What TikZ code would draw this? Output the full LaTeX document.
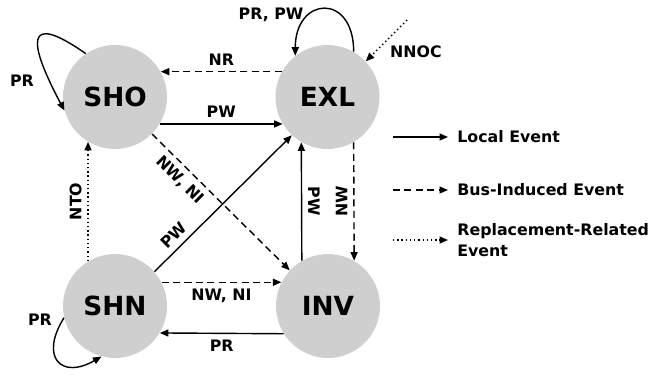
\documentclass[tikz,border=0pt]{standalone}
\usepackage{fontspec}
\setmainfont{DejaVu Sans}
\usepackage{tikz}
\usetikzlibrary{arrows.meta, positioning}

\begin{document}
\begin{tikzpicture}[
    state/.style={circle, fill=black!19, minimum size=2.08cm, inner sep=0pt,
                  font=\fontsize{15}{18}\selectfont\bfseries},
    lbl/.style={font=\fontsize{9}{12}\selectfont\bfseries},
    edge/.style={-{Triangle[length=1.7mm, width=1.4mm]}, thick},
    bus/.style={edge, dash pattern=on 4pt off 2.5pt},
    repl/.style={edge, dash pattern=on 0.8pt off 1.6pt}
  ]
  \useasboundingbox (0,0) rectangle (12.96,7.64);

  % Zustaende
  \node[state] (SHO) at (2.30,5.70) {SHO};
  \node[state] (EXL) at (6.55,5.70) {EXL};
  \node[state] (SHN) at (2.30,1.52) {SHN};
  \node[state] (INV) at (6.56,1.52) {INV};

  % Uebergaenge
  \draw[bus] (EXL.151) -- (SHO.29) node[midway, above, lbl] {NR};
  \draw[edge] (SHO.-31) -- (EXL.-149) node[midway, above, lbl] {PW};
  \draw[bus] (SHO.-45) -- (INV.137) node[pos=0.27, below, sloped, lbl] {NW, NI};
  \draw[edge] (SHN.41) -- (EXL.-133) node[pos=0.2, above, sloped, lbl] {PW};
  \draw[repl] (SHN.121) -- (SHO.-121) node[midway, above, sloped, lbl] {NTO};
  \draw[edge] (INV.120) -- (EXL.-120) node[midway, above, sloped, lbl] {PW};
  \draw[bus] (EXL.-60) -- (INV.60) node[midway, rotate=90, anchor=south, lbl] {NW};
  \draw[bus] (SHN.27) -- (INV.153) node[midway, below, lbl] {NW, NI};
  \draw[edge] (INV.-148) -- (SHN.-31) node[midway, below, lbl] {PR};

  % Schleifen
  \draw[edge] (SHO.124) to[out=145, in=118, looseness=3.2] (SHO.195);
  \node[lbl] (prsho) at (0.44,6.02) {PR};
  \draw[edge] (EXL.60) to[out=90, in=90, looseness=2.6] (EXL.128);
  \node[lbl] (prpw) at (5.42,7.34) {PR, PW};
  \draw[edge] (SHN.193) to[out=238, in=210, looseness=2.2] (SHN.255);
  \node[lbl] (prshn) at (0.80,1.24) {PR};

  % externes Ereignis
  \coordinate (nnocsrc) at (8.14,7.24);
  \draw[repl] (nnocsrc) -- (EXL.43);
  \node[lbl] (nnoc) at (8.32,6.60) {NNOC};

  % Legende
  \node[lbl, anchor=west, inner xsep=0.18cm] (loc) at (8.96,4.90) {Local Event};
  \node[lbl, anchor=west, inner xsep=0.18cm] (busev) at (8.96,3.84) {Bus-Induced Event};
  \node[lbl, anchor=west, inner xsep=0.18cm, align=left] (rep) at (8.96,2.84) {Replacement-Related\\Event};
  \coordinate (locsrc) at (7.86,4.90);
  \coordinate (bussrc) at (7.86,3.84);
  \coordinate (repsrc) at (7.86,2.84);
  \draw[edge] (locsrc) -- (loc);
  \draw[bus] (bussrc) -- (busev);
  \draw[repl] (repsrc) -- (rep);
\end{tikzpicture}
\end{document}
